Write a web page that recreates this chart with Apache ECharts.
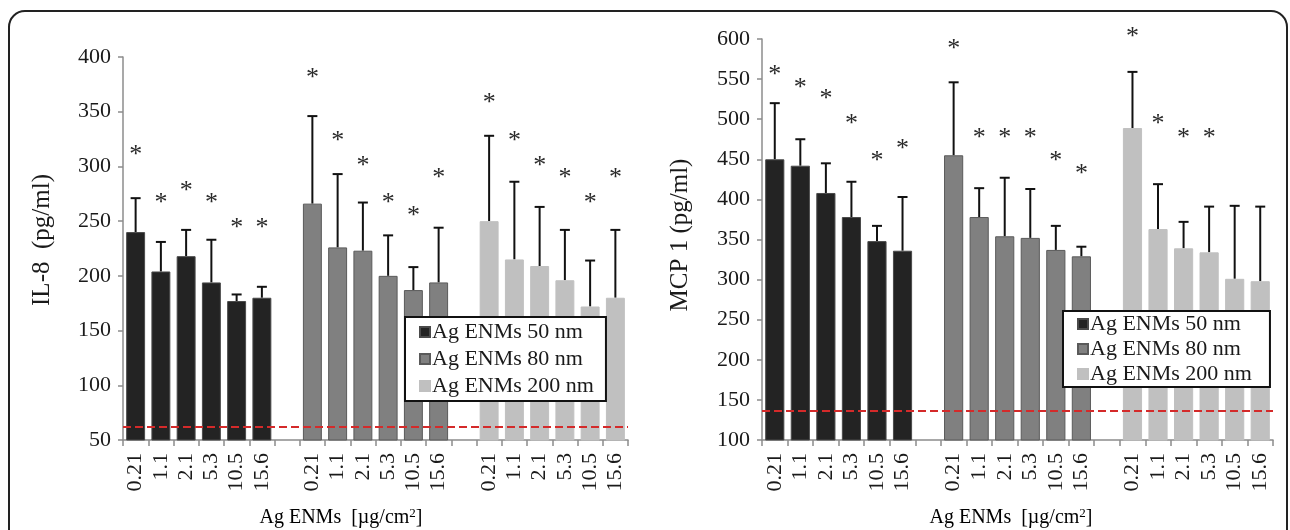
<!DOCTYPE html>
<html><head><meta charset="utf-8">
<script src="https://cdn.jsdelivr.net/npm/echarts@6/dist/echarts.min.js"></script>
<style>html,body{margin:0;padding:0;background:#fff}#c{width:1290px;height:530px}</style>
</head><body><div id="c"></div>
<script>
// ---- data ----
const doses = ['0.21','1.1','2.1','5.3','10.5','15.6'];
const seriesNames = ['Ag ENMs 50 nm','Ag ENMs 80 nm','Ag ENMs 200 nm'];
// IL-8 (pg/ml)
const il8_50  = [240, 204, 218, 194, 177, 180];
const il8_80  = [266, 226, 223, 200, 187, 194];
const il8_200 = [250, 215, 209, 196, 172, 180];
const il8_50_sd  = [31, 27, 24, 39, 6, 10];
const il8_80_sd  = [80, 67, 44, 37, 21, 50];
const il8_200_sd = [78, 71, 54, 46, 42, 62];
const il8_50_star  = [315, 271, 282, 271, 248, 248];
const il8_80_star  = [385, 328, 305, 271, 259, 294];
const il8_200_star = [362, 328, 305, 294, 271, 294];
const il8_control = 62;
// MCP 1 (pg/ml)
const mcp_50  = [450, 442, 408, 378, 348, 336];
const mcp_80  = [455, 378, 354, 352, 337, 329];
const mcp_200 = [489, 363, 339, 334, 301, 298];
const mcp_50_sd  = [70, 33, 37, 44, 19, 67];
const mcp_80_sd  = [91, 36, 73, 61, 30, 12];
const mcp_200_sd = [70, 56, 33, 57, 91, 93];
const mcp_50_star  = [561, 545, 531, 500, 454, 469];
const mcp_80_star  = [594, 483, 483, 483, 454, 438];
const mcp_200_star = [609, 500, 483, 483, null, null];
const mcp_control = 136;

// ---- build ----
const categories = [...doses, '', ...doses, '', ...doses];
const offsets = [0, 7, 14];
const colors = ['#232323', '#808080', '#c0c0c0'];
const borders = ['#4a4a4a', '#5a5a5a', '#c0c0c0'];
const FONT = 'Liberation Serif';
const TXT = '#1a1a1a';

function barData(vals, g) {
  const d = new Array(categories.length).fill(null);
  vals.forEach((v, i) => { d[offsets[g] + i] = v; });
  return d;
}
function errData(groups) {
  const out = [];
  groups.forEach(([m, sd], g) => m.forEach((v, i) => out.push([offsets[g] + i, v, v + sd[i]])));
  return out;
}
function starData(groups) {
  const out = [];
  groups.forEach((s, g) => s.forEach((v, i) => { if (v != null) out.push([offsets[g] + i, v]); }));
  return out;
}

function panelSeries(gi, means, sds, stars, control) {
  const s = [];
  means.forEach((m, g) => {
    const ser = {
      type: 'bar', name: seriesNames[g], xAxisIndex: gi, yAxisIndex: gi,
      data: barData(m, g), barWidth: '75%', barGap: '-100%',
      itemStyle: { color: colors[g], borderColor: borders[g], borderWidth: 1 },
      silent: true, animation: false
    };
    if (g === 0) {
      ser.markLine = {
        silent: true, symbol: 'none', label: { show: false },
        lineStyle: { color: '#d42a2a', type: [8, 4], width: 2 },
        data: [{ yAxis: control }]
      };
    }
    s.push(ser);
  });
  s.push({
    type: 'custom', xAxisIndex: gi, yAxisIndex: gi, animation: false, silent: true,
    data: errData(means.map((m, g) => [m, sds[g]])),
    renderItem: (params, api) => {
      const b = api.coord([api.value(0), api.value(1)]);
      const t = api.coord([api.value(0), api.value(2)]);
      const st = { stroke: '#111', lineWidth: 2 };
      return { type: 'group', children: [
        { type: 'line', shape: { x1: b[0], y1: b[1], x2: t[0], y2: t[1] }, style: st },
        { type: 'line', shape: { x1: t[0] - 5, y1: t[1], x2: t[0] + 5, y2: t[1] }, style: st }
      ]};
    }
  });
  s.push({
    type: 'custom', xAxisIndex: gi, yAxisIndex: gi, animation: false, silent: true, clip: false,
    data: starData(stars),
    renderItem: (params, api) => {
      const p = api.coord([api.value(0), api.value(1)]);
      return { type: 'text', x: p[0], y: p[1] + 5,
        style: { text: '*', fontFamily: FONT, fontSize: 26, fill: '#2a2a2a', align: 'center', verticalAlign: 'middle' } };
    }
  });
  return s;
}

const grids = [
  { left: 123, right: 662, top: 57, bottom: 90 },
  { left: 762, right: 17, top: 39, bottom: 90 }
];
function xAx(i) {
  return {
    type: 'category', gridIndex: i, data: categories,
    axisLine: { lineStyle: { color: '#8c8c8c', width: 1.5 } },
    axisTick: { show: true, length: 6, lineStyle: { color: '#8c8c8c', width: 1.5 } },
    axisLabel: { rotate: 90, fontFamily: FONT, fontSize: 22, color: TXT, margin: 13, interval: 0 }
  };
}
function yAx(i, min, max) {
  return {
    type: 'value', gridIndex: i, min, max, interval: 50,
    axisLine: { show: true, lineStyle: { color: '#8c8c8c', width: 1.5 } },
    axisTick: { show: true, length: 5, lineStyle: { color: '#8c8c8c', width: 1.5 } },
    splitLine: { show: false },
    axisLabel: { fontFamily: FONT, fontSize: 22, color: TXT, margin: 12 }
  };
}
function legend(left, top, gap, pad) {
  return {
    orient: 'vertical', left, top, itemWidth: 10, itemHeight: 10, itemGap: gap,
    icon: 'rect', padding: pad, selectedMode: false,
    backgroundColor: '#fff', borderColor: '#111', borderWidth: 2,
    textStyle: { fontFamily: FONT, fontSize: 22, color: TXT, padding: [0, 0, 0, -3] },
    data: seriesNames
  };
}

const option = {
  animation: false,
  backgroundColor: '#fff',
  grid: grids,
  xAxis: [xAx(0), xAx(1)],
  yAxis: [yAx(0, 50, 400), yAx(1, 100, 600)],
  legend: [legend(405, 317, 5, [4, 12, 4, 14]), legend(1063, 311, 3, [2, 18, 2, 14])],
  series: [
    ...panelSeries(0, [il8_50, il8_80, il8_200], [il8_50_sd, il8_80_sd, il8_200_sd],
                   [il8_50_star, il8_80_star, il8_200_star], il8_control),
    ...panelSeries(1, [mcp_50, mcp_80, mcp_200], [mcp_50_sd, mcp_80_sd, mcp_200_sd],
                   [mcp_50_star, mcp_80_star, mcp_200_star], mcp_control)
  ],
  graphic: [
    { type: 'rect', z: 100, shape: { x: 9, y: 11, width: 1278, height: 600, r: 16 },
      style: { fill: 'none', stroke: '#222', lineWidth: 2 } },
    { type: 'text', x: 42, y: 240, rotation: Math.PI / 2,
      style: { text: 'IL-8  (pg/ml)', fontFamily: FONT, fontSize: 25, fill: TXT, align: 'center', verticalAlign: 'middle' } },
    { type: 'text', x: 680, y: 235, rotation: Math.PI / 2,
      style: { text: 'MCP 1 (pg/ml)', fontFamily: FONT, fontSize: 25, fill: TXT, align: 'center', verticalAlign: 'middle' } },
    { type: 'text', x: 341, y: 518,
      style: { text: '{a|Ag ENMs  [µg/cm}{s|2}{a|]}', align: 'center', verticalAlign: 'middle',
        rich: { a: { fontFamily: FONT, fontSize: 20, color: TXT },
                s: { fontFamily: FONT, fontSize: 13, color: TXT, verticalAlign: 'top', padding: [0, 0, 8, 0] } } } },
    { type: 'text', x: 1011, y: 518,
      style: { text: '{a|Ag ENMs  [µg/cm}{s|2}{a|]}', align: 'center', verticalAlign: 'middle',
        rich: { a: { fontFamily: FONT, fontSize: 20, color: TXT },
                s: { fontFamily: FONT, fontSize: 13, color: TXT, verticalAlign: 'top', padding: [0, 0, 8, 0] } } } }
  ]
};
const chart = echarts.init(document.getElementById('c'), null, { renderer: 'canvas' });
chart.setOption(option);
</script></body></html>
